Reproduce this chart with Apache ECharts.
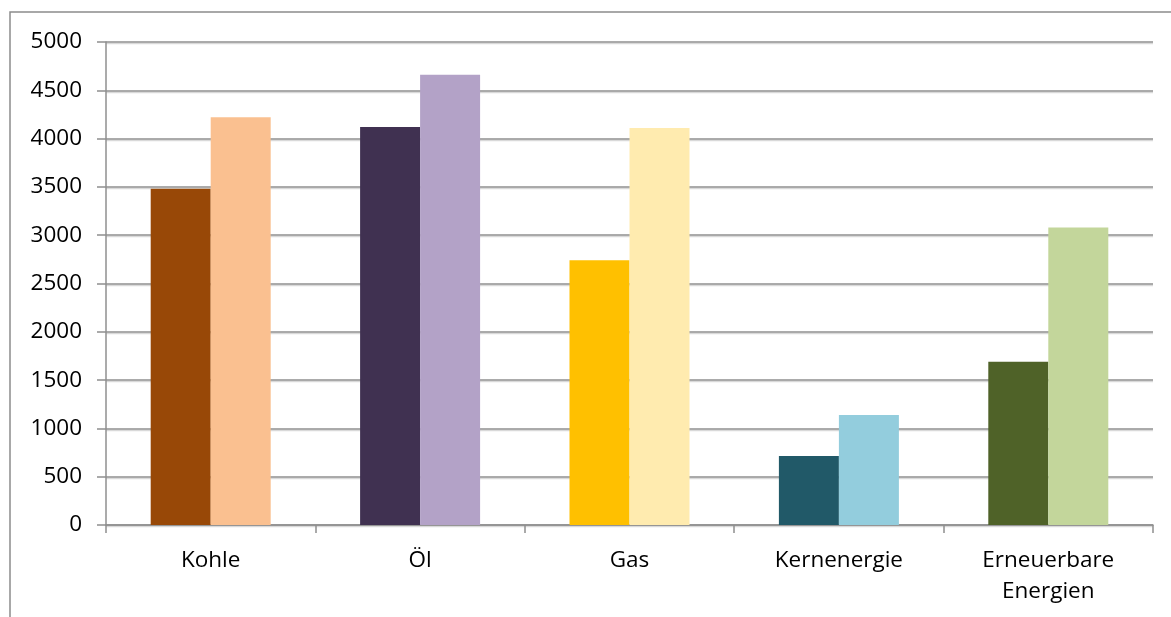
<!DOCTYPE html>
<html>
<head>
<meta charset="utf-8">
<script src="https://cdn.jsdelivr.net/npm/echarts@6/dist/echarts.min.js"></script>
<style>
  html, body { margin: 0; padding: 0; background: #ffffff; }
  #chart { width: 1171px; height: 617px; }
</style>
</head>
<body>
<div id="chart"></div>
<script>
// Energieträger und die beiden Werte je Träger
const categories = ['Kohle', 'Öl', 'Gas', 'Kernenergie', 'Erneuerbare\nEnergien'];
const valuesFirst = [3480, 4120, 2740, 715, 1690];
const valuesSecond = [4220, 4660, 4110, 1140, 3080];
const yTicks = { min: 0, max: 5000, interval: 500 };

// Farbpaare: dunkel für den ersten, hell für den zweiten Balken
const colorsFirst = ['#984807', '#403151', '#FFC000', '#215968', '#4F6228'];
const colorsSecond = ['#FAC090', '#B3A2C7', '#FFEBAF', '#93CDDD', '#C3D69B'];

const gridColor = '#8f8f8f';
const font = '"Open Sans", "Noto Sans", sans-serif';

const chart = echarts.init(document.getElementById('chart'), null, { renderer: 'canvas' });

function coloured(values, colors) {
  return values.map((v, i) => ({ value: v, itemStyle: { color: colors[i] } }));
}

chart.setOption({
  animation: false,
  backgroundColor: '#ffffff',
  graphic: [{
    type: 'rect',
    shape: { x: 10, y: 12, width: 1300, height: 800 },
    style: { fill: 'none', stroke: '#8c8c8c', lineWidth: 1.5 },
    silent: true,
    z: -1
  }],
  grid: { left: 106, right: 18, top: 42, bottom: 92, containLabel: false },
  xAxis: {
    type: 'category',
    data: categories,
    boundaryGap: true,
    axisLine: { show: true, lineStyle: { color: gridColor, width: 1.5 } },
    axisTick: { show: true, alignWithLabel: false, length: 8, lineStyle: { color: gridColor, width: 1.5 } },
    axisLabel: {
      color: '#000000', fontFamily: font, fontSize: 22.5, lineHeight: 31, margin: 20, interval: 0
    },
    splitLine: { show: false }
  },
  yAxis: {
    type: 'value',
    min: yTicks.min, max: yTicks.max, interval: yTicks.interval,
    axisLine: { show: true, lineStyle: { color: gridColor, width: 1.5 } },
    axisTick: { show: true, inside: false, length: 9, lineStyle: { color: gridColor, width: 1.5 } },
    axisLabel: {
      color: '#000000', fontFamily: font, fontSize: 22.5, margin: 24,
      formatter: (v) => String(v)
    },
    splitLine: {
      show: true,
      lineStyle: { color: gridColor, width: 1.5, shadowColor: 'rgba(0,0,0,0.15)', shadowOffsetY: 1.5, shadowBlur: 0 }
    }
  },
  series: [
    {
      name: 'Wert 1', type: 'bar', barWidth: 60, barGap: '0%',
      data: coloured(valuesFirst, colorsFirst)
    },
    {
      name: 'Wert 2', type: 'bar', barWidth: 60, barGap: '0%',
      data: coloured(valuesSecond, colorsSecond)
    }
  ]
});
</script>
</body>
</html>
